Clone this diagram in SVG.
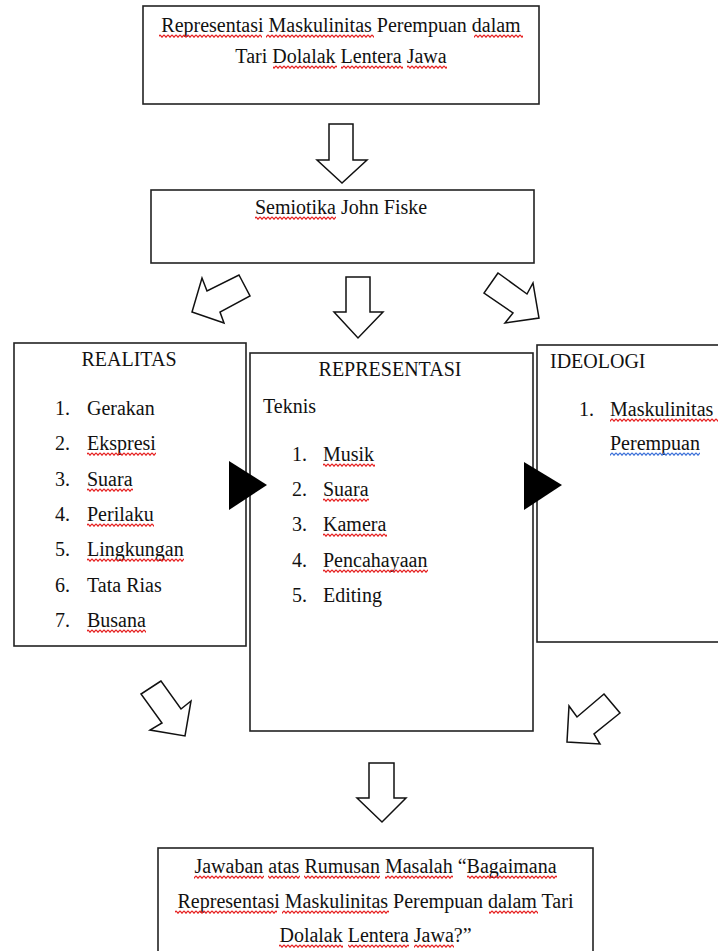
<svg xmlns="http://www.w3.org/2000/svg" width="718" height="951" viewBox="0 0 718 951">
<style>
  .box{fill:#fff;stroke:#222;stroke-width:1.6}
  text{font-family:"Liberation Serif","Times New Roman",serif;font-size:20px;fill:#111}
  .c{text-anchor:middle}
  .arr{fill:#fff;stroke:#111;stroke-width:1.5;stroke-linejoin:miter}
  .tri{fill:#000}
  .sq{fill:url(#sqr)}
  .sqb{fill:url(#sqb)}
</style>
<defs>
  <pattern id="sqr" patternUnits="userSpaceOnUse" width="4" height="4">
    <path d="M0 0.8 L2 3.2 L4 0.8" fill="none" stroke="#e61e1e" stroke-width="1.2"/>
  </pattern>
  <pattern id="sqb" patternUnits="userSpaceOnUse" width="4" height="4">
    <path d="M0 0.8 L2 3.2 L4 0.8" fill="none" stroke="#3a6fd8" stroke-width="1.2"/>
  </pattern>
</defs>
<rect width="718" height="951" fill="#fff"/>

<g id="node-top">
  <rect class="box" x="143" y="6" width="396" height="98"/>
  <text class="c" x="341" y="32">Representasi Maskulinitas Perempuan dalam</text>
  <text class="c" x="341" y="63">Tari Dolalak Lentera Jawa</text>
  <g transform="translate(0,34)">
    <rect class="sq" x="159" y="0" width="103" height="4"/>
    <rect class="sq" x="266" y="0" width="108" height="4"/>
    <rect class="sq" x="474" y="0" width="49" height="4"/>
  </g>
  <g transform="translate(0,65)">
    <rect class="sq" x="273" y="0" width="64" height="4"/>
    <rect class="sq" x="341" y="0" width="62" height="4"/>
    <rect class="sq" x="407" y="0" width="40" height="4"/>
  </g>
</g>

<g id="node-semiotika">
  <rect class="box" x="151" y="190" width="383" height="73"/>
  <text class="c" x="341" y="214">Semiotika John Fiske</text>
  <g transform="translate(0,216)">
    <rect class="sq" x="255" y="0" width="81" height="4"/>
  </g>
</g>

<g id="node-realitas">
  <rect class="box" x="14" y="343" width="232" height="303"/>
  <text class="c" x="129" y="366">REALITAS</text>
  <text x="55" y="415">1.</text><text x="87" y="415">Gerakan</text>
  <text x="55" y="450">2.</text><text x="87" y="450">Ekspresi</text>
  <text x="55" y="486">3.</text><text x="87" y="486">Suara</text>
  <text x="55" y="521">4.</text><text x="87" y="521">Perilaku</text>
  <text x="55" y="556">5.</text><text x="87" y="556">Lingkungan</text>
  <text x="55" y="592">6.</text><text x="87" y="592">Tata Rias</text>
  <text x="55" y="627">7.</text><text x="87" y="627">Busana</text>
  <g transform="translate(0,452)"><rect class="sq" x="87" y="0" width="69" height="4"/></g>
  <g transform="translate(0,488)"><rect class="sq" x="87" y="0" width="46" height="4"/></g>
  <g transform="translate(0,523)"><rect class="sq" x="87" y="0" width="67" height="4"/></g>
  <g transform="translate(0,558)"><rect class="sq" x="87" y="0" width="97" height="4"/></g>
  <g transform="translate(0,629)"><rect class="sq" x="87" y="0" width="59" height="4"/></g>
</g>

<g id="node-representasi">
  <rect class="box" x="250" y="353" width="283" height="378"/>
  <text class="c" x="390" y="376">REPRESENTASI</text>
  <text x="263" y="413">Teknis</text>
  <text x="292" y="461">1.</text><text x="323" y="461">Musik</text>
  <text x="292" y="496">2.</text><text x="323" y="496">Suara</text>
  <text x="292" y="531">3.</text><text x="323" y="531">Kamera</text>
  <text x="292" y="567">4.</text><text x="323" y="567">Pencahayaan</text>
  <text x="292" y="602">5.</text><text x="323" y="602">Editing</text>
  <g transform="translate(0,463)"><rect class="sq" x="323" y="0" width="52" height="4"/></g>
  <g transform="translate(0,498)"><rect class="sq" x="323" y="0" width="46" height="4"/></g>
  <g transform="translate(0,533)"><rect class="sq" x="323" y="0" width="64" height="4"/></g>
  <g transform="translate(0,569)"><rect class="sq" x="323" y="0" width="105" height="4"/></g>
</g>

<g id="node-ideologi">
  <rect class="box" x="537" y="345" width="200" height="297"/>
  <text x="550" y="368">IDEOLOGI</text>
  <text x="579" y="416">1.</text><text x="610" y="416">Maskulinitas</text>
  <text x="610" y="450">Perempuan</text>
  <g transform="translate(0,418)"><rect class="sq" x="610" y="0" width="108" height="4"/></g>
  <g transform="translate(0,452)"><rect class="sqb" x="610" y="0" width="90" height="4"/></g>
</g>

<g id="node-jawaban">
  <rect class="box" x="158" y="848" width="435" height="130"/>
  <text class="c" x="375.5" y="873">Jawaban atas Rumusan Masalah “Bagaimana</text>
  <text class="c" x="375.5" y="908">Representasi Maskulinitas Perempuan dalam Tari</text>
  <text class="c" x="375.5" y="942">Dolalak Lentera Jawa?”</text>
  <g transform="translate(0,875)">
    <rect class="sq" x="194" y="0" width="70" height="4"/>
    <rect class="sq" x="268" y="0" width="32" height="4"/>
    <rect class="sq" x="304" y="0" width="76" height="4"/>
    <rect class="sq" x="385" y="0" width="68" height="4"/>
    <rect class="sq" x="467" y="0" width="90" height="4"/>
  </g>
  <g transform="translate(0,910)">
    <rect class="sq" x="175" y="0" width="102" height="4"/>
    <rect class="sq" x="282" y="0" width="107" height="4"/>
    <rect class="sq" x="489" y="0" width="49" height="4"/>
  </g>
  <g transform="translate(0,944)">
    <rect class="sq" x="279" y="0" width="64" height="4"/>
    <rect class="sq" x="348" y="0" width="61" height="4"/>
    <rect class="sq" x="414" y="0" width="40" height="4"/>
  </g>
</g>

<g id="connectors">
  <polygon class="arr" points="329,124 353,124 353,160 367,160 342,183 317,160 329,160"/>
  <polygon class="arr" points="239,275 250,296 220,312 224,323 192,312 202,278 207,291"/>
  <polygon class="arr" points="346,277 370,277 370,312 383,312 358,338 334,312 346,312"/>
  <polygon class="arr" points="498,273 484,293 513,313 505,323 539,318 533,283 527,294"/>
  <polygon class="tri" points="229,461 267,485 229,510"/>
  <polygon class="tri" points="524,462 562,485 524,510"/>
  <polygon class="arr" points="161,681 141,694 162,723 150,730 185,736 191,701 181,709"/>
  <polygon class="arr" points="604,694 620,713 594,734 600,744 567,742 569,706 577,717"/>
  <polygon class="arr" points="369,763 394,763 394,798 406,798 382,822 357,798 369,798"/>
</g>
</svg>
